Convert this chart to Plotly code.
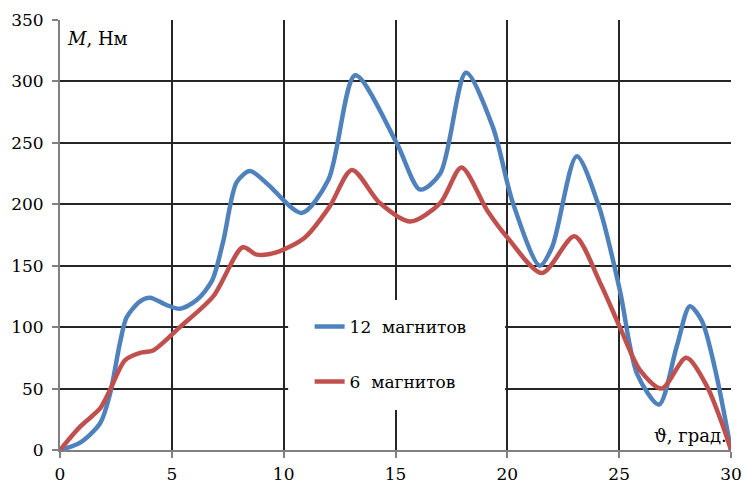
import plotly.graph_objects as go

# 12 magnets (blue)
x_12 = [0, 0.9, 1.8, 2.24, 2.68, 2.98, 3.58, 4.02, 4.77, 5.36, 6.11, 6.8, 7.3, 7.9, 8.5, 9.25,
        10.8, 12.0, 13.2, 15.05, 16.1, 17.0, 18.15, 19.35, 20.25, 21.45, 22.0, 23.1, 24.1,
        25.03, 25.8, 26.78, 27.57, 28.16, 28.7, 29.3, 30]
y_12 = [0, 6, 22, 46, 87, 108, 121, 124, 118, 115, 122, 138, 170, 218, 227, 217,
        193, 220, 305, 250, 212, 225, 307, 263, 201, 150, 165, 239, 198,
        130, 62, 37, 84, 117, 105, 65, 0]

# 6 magnets (red)
x_6 = [0, 0.9, 1.8, 2.24, 2.9, 3.58, 4.16, 5.36, 6.85, 8.17, 8.8, 9.7, 10.95, 12.05, 13.05,
       14.3, 15.65, 17.0, 17.95, 19.1, 20.0, 21.55, 23.0, 24.15, 25.03, 25.93, 26.9, 28.0,
       28.92, 29.65, 30]
y_6 = [0, 19, 34, 49, 73, 79, 81, 100, 125, 165, 159, 161, 173, 198, 228,
       201, 186, 201, 230, 195, 173, 144, 174, 136, 100, 65, 50, 75,
       52, 19, 0]

x_ticks = [0, 5, 10, 15, 20, 25, 30]
y_ticks = [0, 50, 100, 150, 200, 250, 300, 350]

FONT = "DejaVu Serif, serif"
BLUE = "#4F81BD"
RED = "#C0504D"

fig = go.Figure()
fig.add_trace(go.Scatter(x=x_12, y=y_12, mode="lines", name="12  магнитов",
                         line=dict(color=BLUE, width=4.5, shape="spline", smoothing=0.8),
                         legendgroup="a"))
fig.add_trace(go.Scatter(x=x_6, y=y_6, mode="lines", name="6  магнитов",
                         line=dict(color=RED, width=4.5, shape="spline", smoothing=0.8),
                         legendgroup="b"))

# white legend background box that interrupts the gridlines
fig.add_shape(type="rect", xref="x", yref="y", x0=10.2, x1=19.9, y0=32.5, y1=122,
              fillcolor="white", line=dict(width=0), layer="between")

fig.update_layout(
    width=742, height=493,
    margin=dict(l=60, r=11, t=20, b=43, autoexpand=False),
    paper_bgcolor="white", plot_bgcolor="white",
    font=dict(family=FONT, size=17, color="black"),
    showlegend=True,
    legend=dict(x=0.372, y=0.328, xanchor="left", yanchor="top",
                bgcolor="rgba(0,0,0,0)", traceorder="grouped", tracegroupgap=30,
                font=dict(family=FONT, size=17, color="black")),
    xaxis=dict(range=[0, 30], tickvals=x_ticks, showgrid=True, gridcolor="#262626", gridwidth=2,
               zeroline=False, showline=True, linecolor="#808080", linewidth=2,
               ticks="outside", ticklen=6, tickcolor="#808080", tickwidth=2,
               tickfont=dict(family=FONT, size=17), fixedrange=True, automargin=False,
               ticklabeloverflow="allow", ticklabelstandoff=2),
    yaxis=dict(range=[0, 350], tickvals=y_ticks, showgrid=True, gridcolor="#262626", gridwidth=2,
               zeroline=False, showline=True, linecolor="#808080", linewidth=2,
               ticks="outside", ticklen=6, tickcolor="#808080", tickwidth=2,
               tickfont=dict(family=FONT, size=17), fixedrange=True, automargin=False,
               ticklabeloverflow="allow", ticklabelstandoff=5),
    annotations=[
        dict(text="<i>M</i>, Нм", xref="paper", yref="paper", x=0.008, y=0.985,
             xanchor="left", yanchor="top", showarrow=False,
             font=dict(family=FONT, size=18, color="black")),
        dict(text="ϑ, град.", xref="paper", yref="paper", x=0.997, y=0.005,
             xanchor="right", yanchor="bottom", showarrow=False,
             font=dict(family=FONT, size=18, color="black")),
    ],
)

fig.write_html("out.html")
